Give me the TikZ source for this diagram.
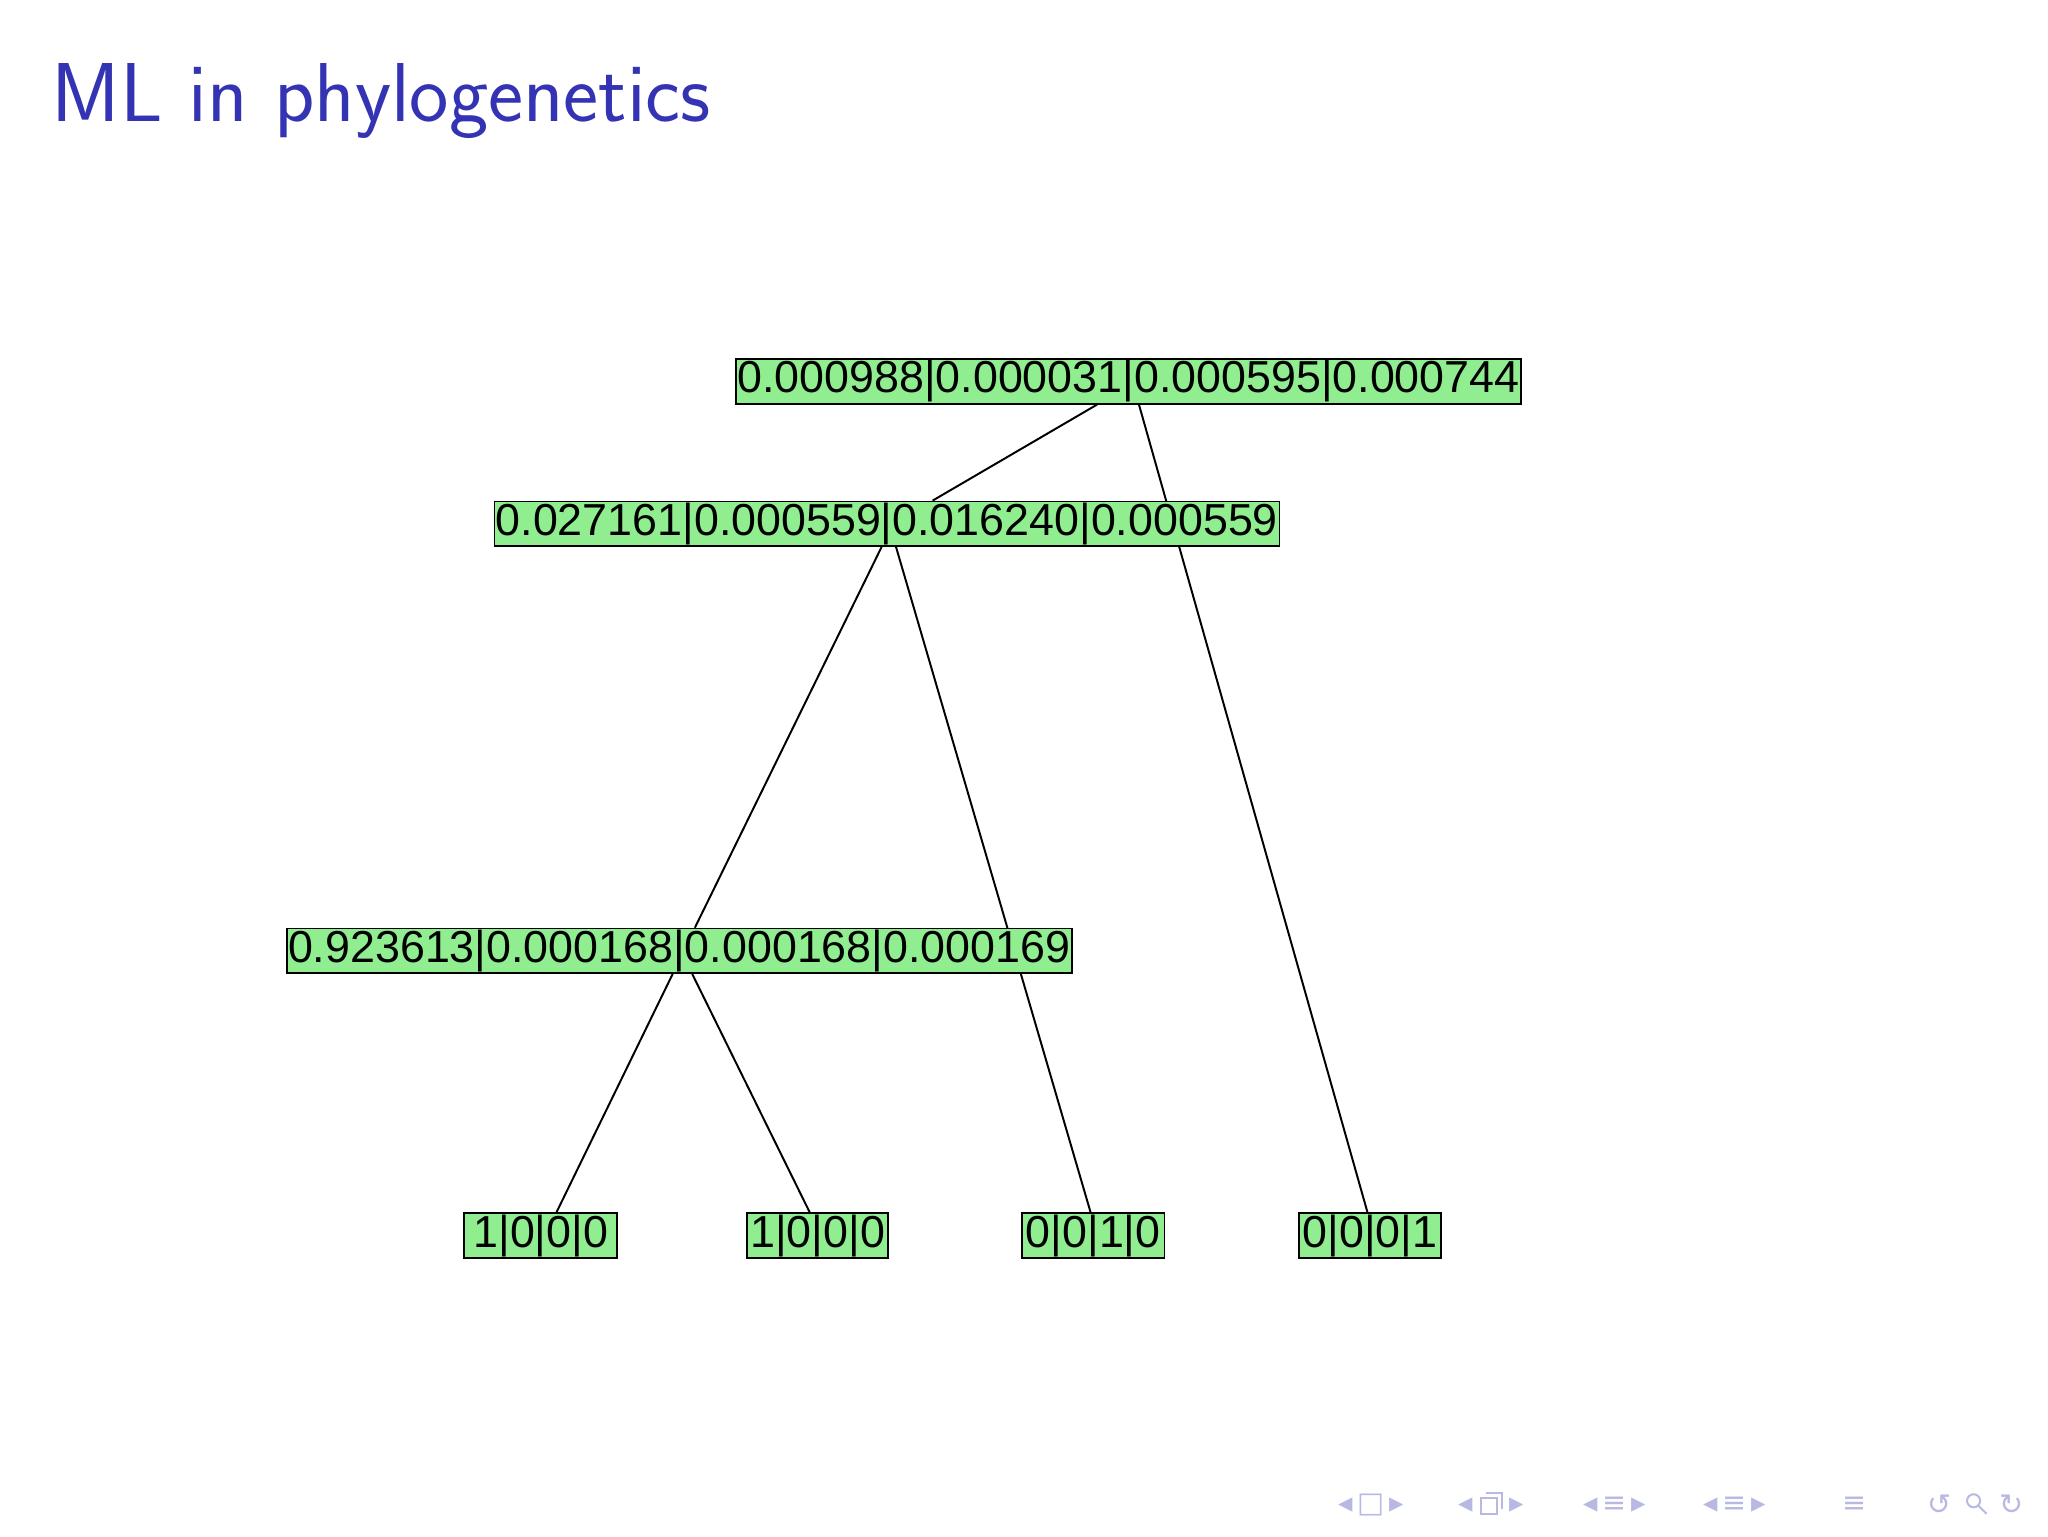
\documentclass[tikz,border=0pt]{standalone}
\usepackage{fontspec}
\setsansfont{Latin Modern Sans}
\newfontfamily\boxfont{Liberation Sans}
\newfontfamily\navfont{DejaVu Sans}
\usetikzlibrary{calc,backgrounds}
\definecolor{titleblue}{RGB}{51,51,179}
\definecolor{boxgreen}{RGB}{144,238,144}
\tikzset{
  vbox/.style={draw=black, line width=1.3pt, fill=boxgreen, inner sep=1pt, minimum height=34pt, font=\boxfont\fontsize{34.3}{34}\selectfont, text=black},
  edge/.style={black, line width=1.5pt},
  navtxt/.style={text=titleblue!35, font=\navfont\fontsize{22}{22}\selectfont, inner sep=0pt},
  navline/.style={draw=titleblue!35, line width=1.5pt}
}
\begin{document}
\begin{tikzpicture}[x=1pt,y=-1pt]
\useasboundingbox (0,0) rectangle (1568,1176);
\node[anchor=base west, text=titleblue, font=\sffamily\fontsize{64}{64}\selectfont] (title) at (36,93) {ML in phylogenetics};
\node[vbox, minimum width=600pt] (root) at (864,292) {0.000988|0.000031|0.000595|0.000744};
\node[vbox, minimum width=600pt] (mid) at (679,401) {0.027161|0.000559|0.016240|0.000559};
\node[vbox, minimum width=600pt] (low) at (520,728) {0.923613|0.000168|0.000168|0.000169};
\node[vbox, minimum width=117pt] (l1) at (414,946) {1|0|0|0};
\node[vbox, minimum width=108pt] (l2) at (626,946) {1|0|0|0};
\node[vbox, minimum width=109pt] (l3) at (837,946) {0|0|1|0};
\node[vbox, minimum width=109pt] (l4) at (1049,946) {0|0|0|1};
\begin{scope}[on background layer]
\fill[white] (0,0) rectangle (1568,1176);
\draw[edge] ($(root.south)+(-24,0)$) -- ($(mid.north)+(35,0)$);
\draw[edge] ($(root.south)+(8,0)$) -- ($(l4.north)+(-2,0)$);
\draw[edge] ($(mid.south)+(-4,0)$) -- ($(low.north)+(12,0)$);
\draw[edge] ($(mid.south)+(7,0)$) -- ($(l3.north)+(-2,0)$);
\draw[edge] ($(low.south)+(-5,0)$) -- ($(l1.north)+(12,0)$);
\draw[edge] ($(low.south)+(10,0)$) -- ($(l2.north)+(-6,0)$);
\end{scope}
% navigation symbols
\node[navtxt] (n1) at (1050,1152) {◂\,□\,▸};
\node[navtxt] (n2) at (1142,1152) {◂\,\phantom{□}\,▸};
\draw[navline] (1134,1147) rectangle (1146,1159) (1138,1143) -- (1150,1143) -- (1150,1155);
\node[navtxt] (n3) at (1236,1152) {◂\,≡\,▸};
\node[navtxt] (n4) at (1328,1152) {◂\,≡\,▸};
\node[navtxt] (n5) at (1420,1152) {≡};
\node[navtxt] (n6) at (1485,1152) {↺};
\draw[navline] (1511,1149) circle (5) (1515,1153) -- (1521,1159);
\node[navtxt] (n7) at (1540,1152) {↻};
\end{tikzpicture}
\end{document}
